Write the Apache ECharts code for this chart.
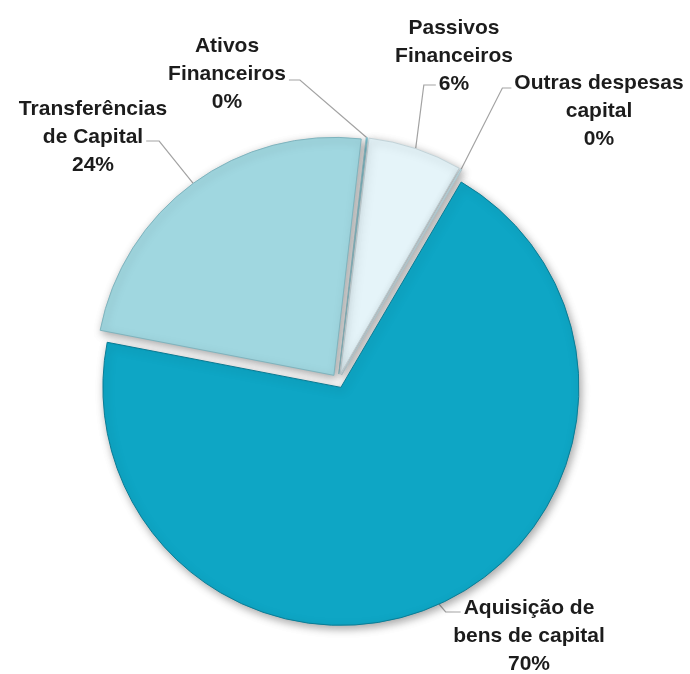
<!DOCTYPE html>
<html><head><meta charset="utf-8">
<script src="https://cdn.jsdelivr.net/npm/echarts@6/dist/echarts.min.js"></script>
<style>html,body{margin:0;padding:0;background:#fff}#c{width:690px;height:674px}</style>
</head><body><div id="c"></div>
<script>
// ---- data ----
const categories = ['Ativos\nFinanceiros', 'Passivos\nFinanceiros', 'Outras despesas\ncapital', 'Aquisição de\nbens de capital', 'Transferências\nde Capital'];
const values = [0.1, 6.4, 0.1, 69.6, 23.8];

// ---- styles ----
const colors  = ['#6cc4d6', '#e5f4f9', '#b9dde6', '#0ea6c5', '#a0d7e0'];
const borders = ['#9ccfd9', '#c3d3d8', '#b0c4ca', '#0a7d96', '#7fb4be'];

// ---- geometry ----
const PIE_CENTER = [338, 381];
const PIE_RADIUS = 238;
const EXPLODE = 7;

// ---- label layout (block centre x, first-line centre y, attach line, attach dy, side of leader) ----
const labelCx    = [227, 454, 599, 529, 93];
const labelY1    = [46, 28, 83, 608, 109];
const attachLine = [1, 2, 0, 0, 1];
const attachDy   = [6, 1, 5, 4, 4];
const sideDir    = [1, -1, -1, -1, 1];
const stub       = [11, 12, 9, 15, 13];
const FONT_FAMILY = '"Liberation Sans", Arial, sans-serif';
const FONT_SIZE = 21, LH = 28;

const mctx = document.createElement('canvas').getContext('2d');
mctx.font = 'bold ' + FONT_SIZE + 'px ' + FONT_FAMILY;

const chart = echarts.init(document.getElementById('c'), null, {renderer: 'canvas'});

const sliceData = categories.map((n, i) => ({
  name: n,
  value: values[i],
  selected: true,
  itemStyle: {color: colors[i], borderColor: borders[i]},
  select: {itemStyle: {color: colors[i], borderColor: borders[i]}}
}));
const labelData = categories.map((n, i) => ({name: n, value: values[i]}));

const common = {
  type: 'pie',
  center: PIE_CENTER,
  radius: PIE_RADIUS,
  startAngle: 83.4,
  clockwise: true,
  avoidLabelOverlap: false
};

chart.setOption({
  animation: false,
  backgroundColor: '#ffffff',
  series: [
    Object.assign({}, common, {
      selectedMode: 'multiple',
      selectedOffset: EXPLODE,
      emphasis: {disabled: true},
      itemStyle: {
        borderWidth: 1,
        shadowBlur: 8,
        shadowColor: 'rgba(0,0,0,0.35)',
        shadowOffsetX: 2,
        shadowOffsetY: 3
      },
      label: {show: false},
      labelLine: {show: false},
      data: sliceData
    }),
    Object.assign({}, common, {
      silent: true,
      selectedMode: false,
      emphasis: {disabled: true},
      itemStyle: {color: 'rgba(0,0,0,0)', borderWidth: 0},
      label: {
        show: true,
        position: 'outside',
        overflow: 'none',
        formatter: p => p.name + '\n' + Math.round(p.percent) + '%',
        fontFamily: FONT_FAMILY,
        fontSize: FONT_SIZE,
        fontWeight: 'bold',
        lineHeight: LH,
        color: '#1c1c1c'
      },
      labelLine: {
        show: true,
        length: 30,
        length2: 10,
        lineStyle: {color: '#a3a3a3', width: 1.2}
      },
      labelLayout: function (p) {
        const i = p.dataIndex;
        const lines = p.text.split('\n');
        const w = mctx.measureText(lines[attachLine[i]]).width;
        const ay = labelY1[i] + attachLine[i] * LH + attachDy[i];
        const ex = labelCx[i] + sideDir[i] * (w / 2 + 3);
        const cx = ex + sideDir[i] * stub[i];
        let start = [cx, ay];
        if (p.labelLinePoints) {
          const s = p.labelLinePoints[0];
          const vx = s[0] - PIE_CENTER[0], vy = s[1] - PIE_CENTER[1];
          const len = Math.sqrt(vx * vx + vy * vy) || 1;
          start = [s[0] + EXPLODE * vx / len, s[1] + EXPLODE * vy / len];
        }
        return {
          x: labelCx[i],
          y: labelY1[i] + LH,
          align: 'center',
          verticalAlign: 'middle',
          labelLinePoints: [start, [cx, ay], [ex, ay]]
        };
      },
      data: labelData
    })
  ]
});
</script>
</body></html>
